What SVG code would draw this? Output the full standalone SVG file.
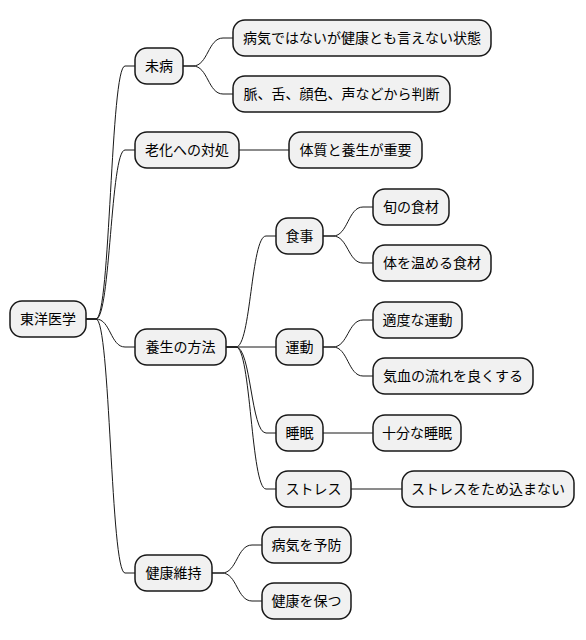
<svg xmlns="http://www.w3.org/2000/svg" width="586" height="640" viewBox="0 0 586 640">
<style>
.n rect{fill:#F1F1F1;stroke:#181818;stroke-width:1.5}
.n text{font-family:"Noto Sans CJK JP","Noto Sans",sans-serif;font-size:14px;fill:#000;text-anchor:middle}
.c path{fill:none;stroke:#181818;stroke-width:1}
</style>
<rect width="586" height="640" fill="#FFFFFF"/>
<g class="c">
<path d="M86,319 L96,319 C110.5,319 110.5,66 125,66 L135,66"/>
<path d="M86,319 L96,319 C110.5,319 110.5,150 125,150 L135,150"/>
<path d="M86,319 L96,319 C110.5,319 110.5,347 125,347 L135,347"/>
<path d="M86,319 L96,319 C110.5,319 110.5,573 125,573 L135,573"/>
<path d="M183,66 L193,66 C208,66 208,38 223,38 L233,38"/>
<path d="M183,66 L193,66 C208,66 208,94 223,94 L233,94"/>
<path d="M239,150 L289,150"/>
<path d="M226,347 L236,347 C251,347 251,236 266,236 L276,236"/>
<path d="M226,347 L276,347"/>
<path d="M226,347 L236,347 C251,347 251,433 266,433 L276,433"/>
<path d="M226,347 L236,347 C251,347 251,489 266,489 L276,489"/>
<path d="M323,236 L333,236 C348,236 348,207 363,207 L373,207"/>
<path d="M323,236 L333,236 C348,236 348,263 363,263 L373,263"/>
<path d="M323,347 L333,347 C348,347 348,320 363,320 L373,320"/>
<path d="M323,347 L333,347 C348,347 348,376 363,376 L373,376"/>
<path d="M323,433 L373,433"/>
<path d="M351,489 L402,489"/>
<path d="M212,573 L222,573 C237,573 237,545 252,545 L262,545"/>
<path d="M212,573 L222,573 C237,573 237,601 252,601 L262,601"/>
</g>
<g id="root" class="n"><rect x="10" y="301" width="76" height="36" rx="12"/><text x="48" y="324">東洋医学</text></g>
<g id="mibyou" class="n"><rect x="135" y="48" width="48" height="36" rx="12"/><text x="159" y="71">未病</text></g>
<g id="mibyou1" class="n"><rect x="233" y="20" width="258" height="36" rx="12"/><text x="362" y="43">病気ではないが健康とも言えない状態</text></g>
<g id="mibyou2" class="n"><rect x="233" y="76" width="217" height="36" rx="12"/><text x="341.5" y="99">脈、舌、顔色、声などから判断</text></g>
<g id="rouka" class="n"><rect x="135" y="132" width="104" height="36" rx="12"/><text x="187" y="155">老化への対処</text></g>
<g id="rouka1" class="n"><rect x="289" y="132" width="133" height="36" rx="12"/><text x="355.5" y="155">体質と養生が重要</text></g>
<g id="yojo" class="n"><rect x="135" y="329" width="91" height="36" rx="12"/><text x="180.5" y="352">養生の方法</text></g>
<g id="shokuji" class="n"><rect x="276" y="218" width="47" height="36" rx="12"/><text x="299.5" y="241">食事</text></g>
<g id="shokuji1" class="n"><rect x="373" y="189" width="76" height="36" rx="12"/><text x="411" y="212">旬の食材</text></g>
<g id="shokuji2" class="n"><rect x="373" y="245" width="118" height="36" rx="12"/><text x="432" y="268">体を温める食材</text></g>
<g id="undou" class="n"><rect x="276" y="329" width="47" height="36" rx="12"/><text x="299.5" y="352">運動</text></g>
<g id="undou1" class="n"><rect x="373" y="302" width="89" height="36" rx="12"/><text x="417.5" y="325">適度な運動</text></g>
<g id="undou2" class="n"><rect x="373" y="358" width="160" height="36" rx="12"/><text x="453" y="381">気血の流れを良くする</text></g>
<g id="suimin" class="n"><rect x="276" y="415" width="47" height="36" rx="12"/><text x="299.5" y="438">睡眠</text></g>
<g id="suimin1" class="n"><rect x="373" y="415" width="88" height="36" rx="12"/><text x="417" y="438">十分な睡眠</text></g>
<g id="stress" class="n"><rect x="276" y="471" width="75" height="36" rx="12"/><text x="313.5" y="494">ストレス</text></g>
<g id="stress1" class="n"><rect x="402" y="471" width="172" height="36" rx="12"/><text x="488" y="494">ストレスをため込まない</text></g>
<g id="kenkou" class="n"><rect x="135" y="555" width="77" height="36" rx="12"/><text x="173.5" y="578">健康維持</text></g>
<g id="kenkou1" class="n"><rect x="262" y="527" width="89" height="36" rx="12"/><text x="306.5" y="550">病気を予防</text></g>
<g id="kenkou2" class="n"><rect x="262" y="583" width="89" height="36" rx="12"/><text x="306.5" y="606">健康を保つ</text></g>
</svg>
